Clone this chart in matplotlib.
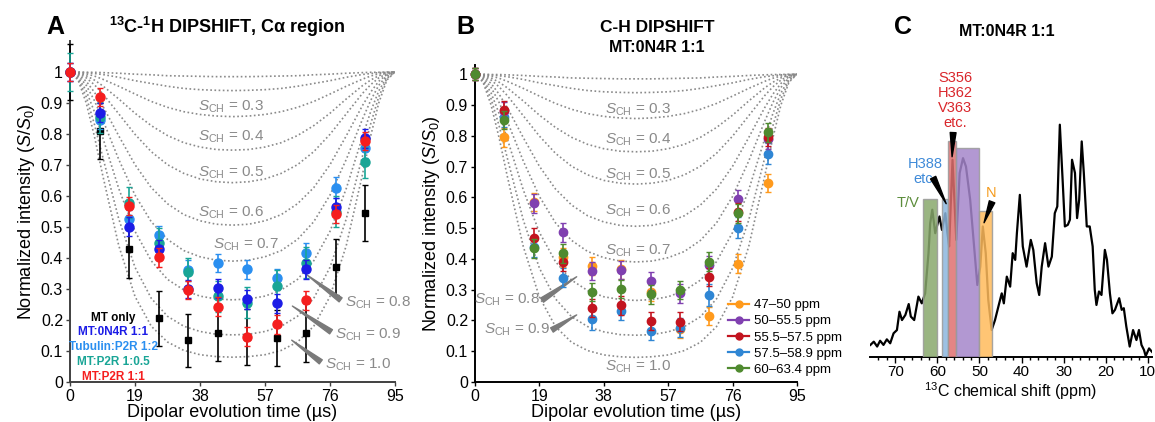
import numpy as np
import matplotlib
matplotlib.use("Agg")
import matplotlib.pyplot as plt
from matplotlib.lines import Line2D

plt.rcParams['font.family'] = ['Liberation Sans', 'DejaVu Sans']
plt.rcParams['mathtext.fontset'] = 'custom'
plt.rcParams['mathtext.rm'] = 'Liberation Sans'
plt.rcParams['mathtext.it'] = 'Liberation Sans:italic'
plt.rcParams['mathtext.bf'] = 'Liberation Sans:bold'

# ---- DIPSHIFT data (times in us) ----
t = [0, 8.64, 17.27, 25.91, 34.55, 43.18, 51.82, 60.45, 69.09, 77.73, 86.36]

# panel A
a_mt_only = [1.0, 0.81, 0.43, 0.205, 0.135, 0.157, 0.144, 0.141, 0.159, 0.372, 0.544]
a_mt_only_err = [0.09, 0.09, 0.095, 0.09, 0.085, 0.09, 0.09, 0.09, 0.095, 0.09, 0.09]
a_0n4r = [1.0, 0.869, 0.501, 0.428, 0.30, 0.302, 0.267, 0.254, 0.363, 0.565, 0.786]
a_0n4r_err = [0.03, 0.03, 0.03, 0.03, 0.03, 0.03, 0.03, 0.03, 0.03, 0.03, 0.03]
a_tub = [1.0, 0.845, 0.525, 0.474, 0.36, 0.384, 0.363, 0.336, 0.415, 0.627, 0.754]
a_tub_err = [0.03, 0.03, 0.03, 0.03, 0.035, 0.03, 0.03, 0.03, 0.035, 0.035, 0.03]
a_p2r05 = [1.0, 0.854, 0.578, 0.447, 0.356, 0.277, 0.256, 0.310, 0.384, 0.55, 0.709]
a_p2r05_err = [0.06, 0.05, 0.05, 0.05, 0.045, 0.05, 0.05, 0.05, 0.05, 0.05, 0.05]
a_p2r1 = [1.0, 0.92, 0.568, 0.402, 0.297, 0.243, 0.146, 0.186, 0.263, 0.542, 0.777]
a_p2r1_err = [0.03, 0.03, 0.03, 0.03, 0.03, 0.03, 0.03, 0.03, 0.03, 0.03, 0.03]

# panel B (MT:0N4R 1:1, ppm windows)
b_labels = ['47–50 ppm', '50–55.5 ppm', '55.5–57.5 ppm', '57.5–58.9 ppm', '60–63.4 ppm']
b_4750 = [1.0, 0.795, 0.585, 0.405, 0.377, 0.366, 0.293, 0.172, 0.215, 0.385, 0.647]
b_50555 = [1.0, 0.88, 0.580, 0.486, 0.360, 0.364, 0.328, 0.288, 0.380, 0.593, 0.788]
b_555575 = [1.0, 0.883, 0.469, 0.391, 0.241, 0.249, 0.198, 0.196, 0.342, 0.553, 0.796]
b_575589 = [1.0, 0.86, 0.44, 0.339, 0.205, 0.230, 0.166, 0.177, 0.282, 0.502, 0.742]
b_60634 = [1.0, 0.851, 0.434, 0.418, 0.292, 0.303, 0.285, 0.299, 0.391, 0.548, 0.811]
b_err = [0.02, 0.03, 0.03, 0.03, 0.03, 0.03, 0.03, 0.03, 0.03, 0.03, 0.03]
b_err_blue = [0.02, 0.03, 0.035, 0.03, 0.035, 0.03, 0.03, 0.03, 0.035, 0.035, 0.035]

# simulated S_CH curves, first half of the rotor period
curve_t = [0, 2.375, 4.75, 7.125, 9.5, 14.25, 19, 23.75, 28.5, 33.25, 38, 42.75, 47.5]
sch_values = [0.1, 0.2, 0.3, 0.4, 0.5, 0.6, 0.7, 0.8, 0.9, 1.0]
sch_curves = [
    [1, 1.0, 0.999, 0.999, 0.998, 0.996, 0.993, 0.991, 0.988, 0.987, 0.986, 0.985, 0.985],
    [1, 0.999, 0.998, 0.995, 0.992, 0.983, 0.972, 0.963, 0.954, 0.947, 0.943, 0.941, 0.940],
    [1, 0.998, 0.994, 0.987, 0.977, 0.954, 0.929, 0.905, 0.886, 0.872, 0.863, 0.858, 0.856],
    [1, 0.997, 0.988, 0.974, 0.956, 0.913, 0.867, 0.827, 0.795, 0.772, 0.758, 0.750, 0.748],
    [1, 0.995, 0.981, 0.959, 0.931, 0.865, 0.799, 0.743, 0.701, 0.673, 0.655, 0.646, 0.643],
    [1, 0.992, 0.970, 0.935, 0.892, 0.794, 0.701, 0.627, 0.575, 0.540, 0.520, 0.509, 0.506],
    [1, 0.989, 0.957, 0.908, 0.848, 0.718, 0.603, 0.517, 0.460, 0.424, 0.404, 0.393, 0.390],
    [1, 0.984, 0.939, 0.872, 0.791, 0.624, 0.486, 0.391, 0.331, 0.297, 0.277, 0.268, 0.265],
    [1, 0.979, 0.920, 0.832, 0.729, 0.526, 0.370, 0.270, 0.212, 0.180, 0.163, 0.154, 0.152],
    [1, 0.974, 0.900, 0.793, 0.670, 0.440, 0.276, 0.180, 0.129, 0.102, 0.088, 0.082, 0.080],
]

# panel C: 13C spectrum
ppm = [75.9, 75.1, 74.3, 73.6, 72.8, 72.0, 71.2, 70.4, 69.6, 69.0, 68.4, 67.6, 66.8, 66.3,
       65.5, 64.5, 63.7, 62.9, 62.1, 61.7, 61.2, 60.5, 59.5, 58.9, 58.1, 57.6, 57.2, 56.4,
       55.5, 54.7, 53.9, 53.2, 52.2, 51.4, 50.5, 49.8, 49.2, 48.5, 47.9, 47.1, 46.3, 45.5,
       44.7, 44.2, 43.5, 42.7, 42.1, 41.5, 41.1, 40.4, 39.7, 38.8, 37.8, 37.2, 36.4, 35.8,
       35.2, 34.4, 33.6, 32.8, 32.1, 31.5, 30.9, 30.2, 29.7, 29.0, 28.5, 28.0, 27.3, 26.8,
       26.3, 25.7, 25.2, 24.5, 23.8, 23.1, 22.6, 22.2, 21.6, 21.0, 20.2, 19.7, 19.0, 18.4,
       17.8, 16.8, 16.2, 15.7, 15.1, 14.3, 13.5, 12.7, 12.1, 11.5, 10.9, 10.5, 9.7, 8.7]
intensity = [0.052, 0.066, 0.045, 0.070, 0.052, 0.076, 0.059, 0.102, 0.116, 0.195, 0.159, 0.181,
             0.228, 0.174, 0.159, 0.260, 0.231, 0.274, 0.447, 0.576, 0.634, 0.533, 0.605, 0.547,
             0.619, 0.533, 0.476, 0.849, 0.504, 0.792, 0.856, 0.820, 0.677, 0.504, 0.310, 0.389,
             0.562, 0.447, 0.246, 0.116, 0.159, 0.217, 0.274, 0.231, 0.346, 0.303, 0.447, 0.418,
             0.533, 0.698, 0.476, 0.389, 0.504, 0.461, 0.318, 0.267, 0.389, 0.490, 0.389, 0.432,
             0.619, 0.648, 1.0, 0.749, 0.562, 0.569, 0.591, 0.849, 0.792, 0.598, 0.677, 0.928,
             0.792, 0.562, 0.562, 0.476, 0.289, 0.224, 0.282, 0.267, 0.461, 0.418, 0.274, 0.188,
             0.203, 0.253, 0.203, 0.210, 0.131, 0.045, 0.116, 0.073, 0.116, 0.052, 0.030, 0.004,
             0.037, 0.016]
band_lo = [60, 57.5, 55.5, 50, 47]
band_hi = [63.4, 58.9, 57.5, 55.5, 50]
band_height = [0.68, 0.68, 0.93, 0.90, 0.63]

# ---- figure ----
W, H = 1155, 422
fig = plt.figure(figsize=(W / 100, H / 100), dpi=100)


def px_axes(left, right, top, bottom):
    return fig.add_axes([left / W, 1 - bottom / H, (right - left) / W, (bottom - top) / H])


axA = px_axes(70, 395, 41, 382)
axB = px_axes(475, 797, 65, 382)
axC = px_axes(870, 1152, 55, 357)

grey = '#8a8a8a'
curve_t_full = np.concatenate([curve_t, 95 - np.array(curve_t[-2::-1])])

for ax, ytop, spcol in [(axA, 1.1, '#404040'), (axB, 1.03, 'black')]:
    for c in sch_curves:
        c_full = np.concatenate([c, c[-2::-1]])
        ax.plot(curve_t_full, c_full, color=grey, lw=1.2, ls=(0, (1, 1.5)), zorder=1)
    ax.set_xlim(0, 95)
    ax.set_ylim(0, ytop)
    ax.set_xticks([0, 19, 38, 57, 76, 95])
    ax.set_yticks([0, 0.1, 0.2, 0.3, 0.4, 0.5, 0.6, 0.7, 0.8, 0.9, 1.0])
    ax.set_yticklabels(['0', '0.1', '0.2', '0.3', '0.4', '0.5', '0.6', '0.7', '0.8', '0.9', '1'])
    for side in ['top', 'right']:
        ax.spines[side].set_visible(False)
    for side in ['left', 'bottom']:
        ax.spines[side].set_color(spcol)
        ax.spines[side].set_linewidth(1.4)
    ax.tick_params(labelsize=11.5, length=3, width=1, colors=spcol, labelcolor='black', pad=2)
    ax.set_xlabel('Dipolar evolution time (µs)', fontsize=13, labelpad=0)
    ax.set_ylabel('Normalized intensity ($S$/$S_0$)', fontsize=13, labelpad=3)


def eb(ax, y, e, color, marker='o', ms=6.5, z=3):
    cont = ax.errorbar(t, y, yerr=e, fmt=marker, color=color, ms=ms, capsize=2,
                       elinewidth=1.2, capthick=1.0, zorder=z)
    for art in cont.get_children():
        art.set_clip_on(False)
    return cont


# panel A series
eb(axA, a_mt_only, a_mt_only_err, 'black', marker='s', ms=5, z=3)
eb(axA, a_tub, a_tub_err, '#2a8ff0', z=4)
eb(axA, a_p2r05, a_p2r05_err, '#19a596', z=5)
eb(axA, a_0n4r, a_0n4r_err, '#1c1ce6', z=6)
eb(axA, a_p2r1, a_p2r1_err, '#f51e1e', z=7)

a_leg = [('MT only', 'black', 0.206), ('MT:0N4R 1:1', '#1c1ce6', 0.161),
         ('Tubulin:P2R 1:2', '#2a8ff0', 0.113), ('MT:P2R 1:0.5', '#19a596', 0.065),
         ('MT:P2R 1:1', '#f51e1e', 0.016)]
for txt, col, yy in a_leg:
    axA.text(12.7, yy, txt, color=col, fontsize=8.5, fontweight='bold', ha='center', va='center')

# S_CH labels panel A
for val, xx, yy in [(0.3, 47, 0.887), (0.4, 47, 0.79), (0.5, 47, 0.674), (0.6, 47, 0.545),
                    (0.7, 51.5, 0.442)]:
    axA.text(xx, yy, r'$S_{\mathrm{CH}}$ = %.1f' % val, color=grey, fontsize=11,
             ha='center', va='center')
for val, tx, ty, tip_x, tip_y in [(0.8, 80.4, 0.255, 69.3, 0.345),
                                   (0.9, 77.6, 0.152, 65.0, 0.245),
                                   (1.0, 74.6, 0.055, 64.8, 0.135)]:
    axA.text(tx, ty, r'$S_{\mathrm{CH}}$ = %.1f' % val, color=grey, fontsize=11,
             ha='left', va='center')
    axA.annotate('', xy=(tip_x, tip_y), xytext=(tx - 1.3, ty + 0.01),
                 arrowprops=dict(arrowstyle='wedge,tail_width=0.3', color='#7a7a7a',
                                 shrinkA=0, shrinkB=0, mutation_scale=12))

# panel B series
b_colors = ['#ff9a1c', '#8040b0', '#c3141f', '#2f86d4', '#4f8a2f']
eb(axB, b_4750, b_err, b_colors[0], ms=6, z=3)
eb(axB, b_575589, b_err_blue, b_colors[3], ms=6, z=4)
eb(axB, b_50555, b_err, b_colors[1], ms=6, z=5)
eb(axB, b_555575, b_err, b_colors[2], ms=6, z=6)
eb(axB, b_60634, b_err, b_colors[4], ms=6, z=7)
handles = [Line2D([], [], color=b_colors[i], marker='o', ms=5, lw=1.6) for i in range(5)]
axB.legend(handles, b_labels, loc='lower left', bbox_to_anchor=(728 / W, 1 - 376 / H),
           bbox_transform=fig.transFigure, frameon=False, fontsize=9.5, handlelength=1.6,
           handletextpad=0.4, labelspacing=0.3, borderpad=0, borderaxespad=0)

for val, yy in [(0.3, 0.883), (0.4, 0.786), (0.5, 0.672), (0.6, 0.555), (0.7, 0.426), (1.0, 0.05)]:
    axB.text(48.1, yy, r'$S_{\mathrm{CH}}$ = %.1f' % val, color=grey, fontsize=11,
             ha='center', va='center')
for val, tx, ty, tip_x, tip_y in [(0.8, 19.2, 0.266, 30.0, 0.342), (0.9, 22.1, 0.169, 30.0, 0.218)]:
    axB.text(tx, ty, r'$S_{\mathrm{CH}}$ = %.1f' % val, color=grey, fontsize=11,
             ha='right', va='center')
    axB.annotate('', xy=(tip_x, tip_y), xytext=(tx + 0.6, ty),
                 arrowprops=dict(arrowstyle='wedge,tail_width=0.3', color='#7a7a7a',
                                 shrinkA=0, shrinkB=0, mutation_scale=12))

# panel C spectrum
band_face = ['#88a86c', '#8cb6de', '#e07070', '#a586cb', '#ffbb5c']
axC.plot(ppm, intensity, color='black', lw=1.6, zorder=2)
for lo, hi, hh, fc in zip(band_lo, band_hi, band_height, band_face):
    axC.bar(lo, hh, width=hi - lo, align='edge', color=fc, alpha=0.85, edgecolor='#9a9a9a',
            linewidth=1.0, zorder=3)
axC.set_xlim(76, 9)
axC.set_ylim(0, 1.3)
axC.set_xticks([70, 60, 50, 40, 30, 20, 10])
axC.set_xticks(np.arange(10, 76, 2), minor=True)
axC.set_yticks([])
for side in ['top', 'right', 'left']:
    axC.spines[side].set_visible(False)
axC.spines['bottom'].set_linewidth(1.4)
axC.tick_params(axis='x', which='major', labelsize=11, length=4, width=1, pad=2)
axC.tick_params(axis='x', which='minor', length=2.5, width=1)
axC.set_xlabel('$^{13}$C chemical shift (ppm)', fontsize=11.5, labelpad=1)

axC.text(55.8, 1.105, 'S356\nH362\nV363\netc.', color='#d9262b', fontsize=10.5, ha='center',
         va='center', linespacing=1.1)
axC.text(62.9, 0.80, 'H388\netc.', color='#3f8ad8', fontsize=10.5, ha='center', va='center',
         linespacing=1.1)
axC.text(66.9, 0.664, 'T/V', color='#5b8c3a', fontsize=10.5, ha='center', va='center')
axC.text(47.2, 0.707, 'N', color='#f59a1b', fontsize=10.5, ha='center', va='center')
for (x0, y0, x1, y1) in [(56.25, 0.966, 56.5, 0.862), (61.0, 0.772, 57.9, 0.66),
                         (47.0, 0.668, 48.9, 0.578)]:
    axC.annotate('', xy=(x1, y1), xytext=(x0, y0),
                 arrowprops=dict(arrowstyle='wedge,tail_width=0.35', color='black',
                                 shrinkA=0, shrinkB=0, mutation_scale=12), zorder=5)

# titles and panel letters
fig.text(55 / W, 1 - 27 / H, 'A', fontsize=18, fontweight='bold', ha='center', va='center')
fig.text(227 / W, 1 - 27 / H, r'$^{\mathbf{13}}$C-$^{\mathbf{1}}$H DIPSHIFT, Cα region',
         fontsize=13, fontweight='bold', ha='center', va='center')
fig.text(465 / W, 1 - 27 / H, 'B', fontsize=18, fontweight='bold', ha='center', va='center')
fig.text(657 / W, 1 - 27 / H, 'C-H DIPSHIFT', fontsize=12.5, fontweight='bold',
         ha='center', va='center')
fig.text(657 / W, 1 - 47 / H, 'MT:0N4R 1:1', fontsize=11.5, fontweight='bold',
         ha='center', va='center')
fig.text(903 / W, 1 - 27 / H, 'C', fontsize=18, fontweight='bold', ha='center', va='center')
fig.text(1007 / W, 1 - 32 / H, 'MT:0N4R 1:1', fontsize=11.5, fontweight='bold',
         ha='center', va='center')

fig.savefig('out.png', dpi=100)
